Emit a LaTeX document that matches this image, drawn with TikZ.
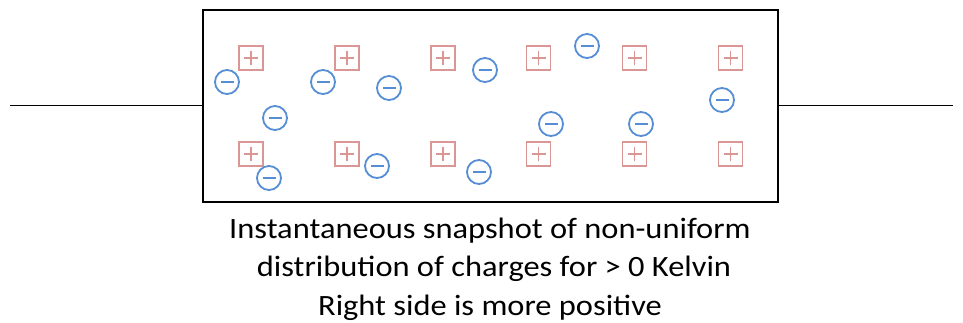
\documentclass[tikz,border=0pt]{standalone}
\usepackage{fontspec}
\setmainfont{Carlito}
\definecolor{posred}{HTML}{D99694}
\definecolor{negblue}{HTML}{558ED5}
\begin{document}
\begin{tikzpicture}[x=1pt,y=-1pt,
  poscharge/.style={draw=posred, line width=1.8pt, minimum size=24pt, inner sep=0pt,
    path picture={\draw[posred,line width=1.6pt]
      ([xshift=-7pt]path picture bounding box.center) -- ([xshift=7pt]path picture bounding box.center)
      ([yshift=-7pt]path picture bounding box.center) -- ([yshift=7pt]path picture bounding box.center);}},
  negcharge/.style={circle, draw=negblue, line width=1.8pt, minimum size=24pt, inner sep=0pt,
    path picture={\draw[negblue,line width=2pt]
      ([xshift=-6.5pt]path picture bounding box.center) -- ([xshift=6.5pt]path picture bounding box.center);}},
  wire/.style={line width=1.4pt, black},
  resbox/.style={draw=black, line width=2.2pt, minimum width=575pt, minimum height=192pt, inner sep=0pt},
  captxt/.style={anchor=base, inner sep=0pt, font=\fontsize{29.5}{38}\selectfont\addfontfeature{FakeStretch=1.1}}
]
\useasboundingbox (0,0) rectangle (963,322);
\node[resbox] (box) at (490.5,106) {};
\coordinate (L) at (10,105.5);
\coordinate (R) at (953,105.5);
\draw[wire] (L) -- (L -| box.west);
\draw[wire] (R -| box.east) -- (R);
% positive charges
\node[poscharge] (p1) at (251,58) {};
\node[poscharge] (p2) at (347,58) {};
\node[poscharge] (p3) at (443,58) {};
\node[poscharge] (p4) at (538.5,58) {};
\node[poscharge] (p5) at (634.5,58) {};
\node[poscharge] (p6) at (730.5,58) {};
\node[poscharge] (p7) at (251,154) {};
\node[poscharge] (p8) at (347,154) {};
\node[poscharge] (p9) at (443,154) {};
\node[poscharge] (p10) at (538.5,154) {};
\node[poscharge] (p11) at (634.5,154) {};
\node[poscharge] (p12) at (730.5,154) {};
% negative charges
\node[negcharge] (n1) at (227,82) {};
\node[negcharge] (n2) at (275,118) {};
\node[negcharge] (n3) at (323,82) {};
\node[negcharge] (n4) at (389,88) {};
\node[negcharge] (n5) at (485,70) {};
\node[negcharge] (n6) at (269,178) {};
\node[negcharge] (n7) at (377,166) {};
\node[negcharge] (n8) at (479,172) {};
\node[negcharge] (n9) at (587,46) {};
\node[negcharge] (n10) at (551,124) {};
\node[negcharge] (n11) at (641,124) {};
\node[negcharge] (n12) at (722,100) {};
\node[captxt] (cap1) at (490,238) {Instantaneous snapshot of non-uniform};
\node[captxt] (cap2) at (494,276.5) {distribution of charges for > 0 Kelvin};
\node[captxt] (cap3) at (490,315) {Right side is more positive};
\end{tikzpicture}
\end{document}
